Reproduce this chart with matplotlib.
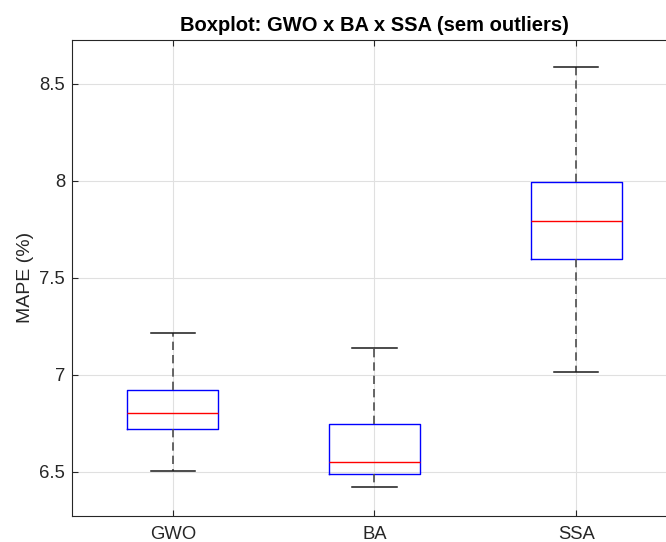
import matplotlib
matplotlib.use("Agg")
import matplotlib.pyplot as plt

plt.rcParams['font.family'] = ['Liberation Sans', 'DejaVu Sans']

# Estatísticas (sem outliers)
labels = ["GWO", "BA", "SSA"]
whislo = [6.507, 6.424, 7.017]
q1 = [6.722, 6.488, 7.596]
med = [6.806, 6.552, 7.792]
q3 = [6.921, 6.746, 7.993]
whishi = [7.218, 7.141, 8.586]

stats = []
for i in range(len(labels)):
    stats.append(dict(label=labels[i], whislo=whislo[i], q1=q1[i], med=med[i],
                      q3=q3[i], whishi=whishi[i], fliers=[]))

fig = plt.figure(figsize=(6.66, 5.42), dpi=100)
# eixo se estende além da borda direita, como na figura original
ax = fig.add_axes([72/666, 1 - 516/542, (677 - 72)/666, (516 - 39.5)/542])

ax.bxp(stats, widths=0.45, showfliers=False,
       boxprops=dict(color=(0, 0, 1), linewidth=1.0),
       medianprops=dict(color=(1, 0, 0), linewidth=1.0),
       whiskerprops=dict(color='0.3', linewidth=1.2, linestyle=(0, (5, 3))),
       capprops=dict(color='0.1', linewidth=1.1),
       capwidths=0.22)

ax.set_xlim(0.5, 3.5)
ax.set_ylim(6.273, 8.729)
ax.set_yticks([6.5, 7, 7.5, 8, 8.5])
ax.set_yticklabels(["6.5", "7", "7.5", "8", "8.5"])

ax.grid(True, color='0.88', linewidth=0.8)
ax.set_axisbelow(True)
ax.tick_params(direction='in', top=True, right=True, length=4,
               labelsize=13.3, labelcolor='0.15', color='0.15')
ax.tick_params(axis='y', pad=5)
ax.tick_params(axis='x', pad=7)
for s in ax.spines.values():
    s.set_color('0.15')
    s.set_linewidth(0.8)

ax.set_ylabel("MAPE (%)", fontsize=14, color='0.15', labelpad=4)
ax.set_title("Boxplot: GWO x BA x SSA (sem outliers)", fontsize=14.5,
             fontweight='bold', pad=6)

fig.savefig("out.png", dpi=100)
